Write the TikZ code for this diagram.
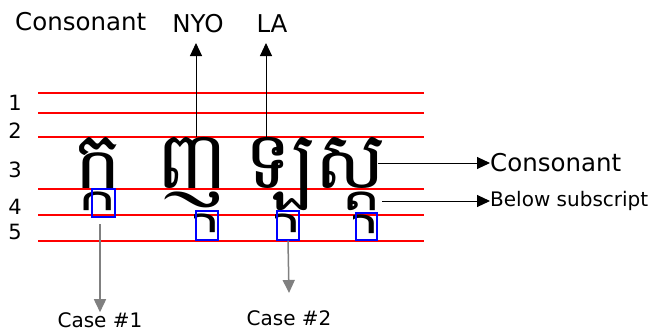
\documentclass[tikz,border=0pt]{standalone}
\usepackage{fontspec}
\setmainfont{DejaVu Sans}
\newfontfamily\khmerfont[Script=Khmer]{Battambang}
\usetikzlibrary{arrows.meta}
\definecolor{guidered}{RGB}{255,0,0}
\definecolor{boxblue}{RGB}{0,0,255}
\begin{document}
\begin{tikzpicture}[x=1pt,y=-1pt,
  redline/.style={color=guidered, line width=1.2pt},
  blkarrow/.style={draw=black, line width=1pt, -{Triangle[length=13pt,width=12pt]}},
  grayarrow/.style={draw=black!50, line width=1.5pt, -{Triangle[length=13pt,width=12pt]}},
  bluebox/.style={draw=boxblue, line width=1.2pt, inner sep=0pt},
  lbl/.style={font=\fontsize{24.5}{28}\selectfont, inner sep=0pt},
  slbl/.style={font=\fontsize{20}{24}\selectfont, inner sep=0pt},
  num/.style={font=\fontsize{21}{24}\selectfont, inner sep=0pt},
  kh/.style={font=\khmerfont\fontsize{80}{90}\selectfont, inner sep=0pt, anchor=base west}]
\useasboundingbox (0,0) rectangle (656,333);
% red guide lines
\foreach \y in {93,113,137,189,215,241} \draw[redline] (38,\y) -- (424,\y);
% row numbers
\node[num] (n1) at (15,103) {1};
\node[num] (n2) at (15,131) {2};
\node[num] (n3) at (15,170) {3};
\node[num] (n4) at (15,207) {4};
\node[num] (n5) at (15,232) {5};
% labels
\node[lbl, anchor=west] (cons) at (15,22) {Consonant};
\node[lbl] (nyo) at (198,24) {NYO};
\node[lbl] (la) at (272,24) {LA};
% Khmer consonants
\node[kh] (k1) at (74,188) {ក្ក};
\node[kh] (k2) at (156,188) {ញ};
\node[kh] (k3) at (244,188) {ឡ};
\node[kh] (k4) at (314,188) {ស្ដ};
% subscripts pushed down to row 5
\foreach \dx/\dy in {103.5/22.5, 184.5/22.5, 263/23.5} {
  \begin{scope}
    \clip (103.5+\dx-13,203+\dy-13) rectangle (103.5+\dx+13,203+\dy+16);
    \node[kh] at (74+\dx,188+\dy) {ក្ក};
  \end{scope}
}
% blue boxes
\node[bluebox, minimum width=23pt, minimum height=28pt] (b1) at (103.5,203) {};
\node[bluebox, minimum width=22pt, minimum height=29pt] (b2) at (207,225.5) {};
\node[bluebox, minimum width=22pt, minimum height=29pt] (b3) at (288,225.5) {};
\node[bluebox, minimum width=21pt, minimum height=27pt] (b4) at (366.5,226.5) {};
% up arrows
\coordinate (u1) at (196,137);
\coordinate (u2) at (266,137);
\draw[blkarrow] (u1) -- (196,43);
\draw[blkarrow] (u2) -- (266,43);
% right labels
\node[lbl, anchor=west] (rcons) at (490,163) {Consonant};
\node[slbl, anchor=west] (rbelow) at (490,201) {Below subscript};
\coordinate (r1) at (378,163);
\coordinate (r2) at (382,201);
\draw[blkarrow] (r1) -- (rcons.west);
\draw[blkarrow] (r2) -- (rbelow.west);
% bottom labels
\node[slbl] (c1) at (100,320) {Case \#1};
\node[slbl] (c2) at (289,318) {Case \#2};
\draw[grayarrow] (100,224) -- (c1.north);
\draw[grayarrow] (b3.south) -- (289,293);
\end{tikzpicture}
\end{document}
